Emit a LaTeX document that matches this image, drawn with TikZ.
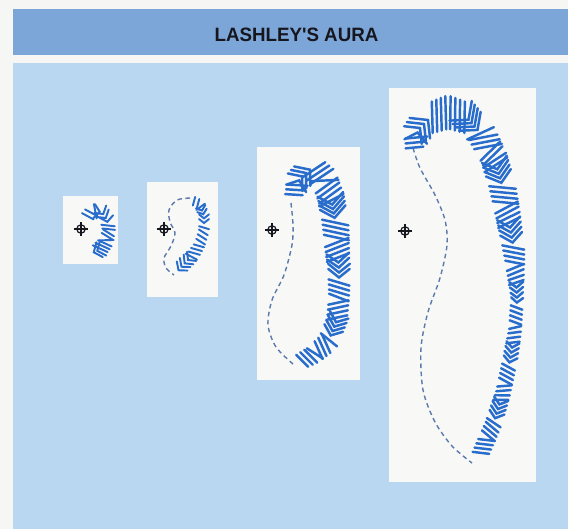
\documentclass[tikz,border=0pt]{standalone}
\usepackage{fontspec}
\newfontfamily\headfont{Liberation Sans}[FakeStretch=0.97]
\usepackage{xcolor}
\definecolor{pagewhite}{RGB}{246,246,244}
\definecolor{barblue}{RGB}{124,165,216}
\definecolor{panelblue}{RGB}{186,215,241}
\definecolor{cardwhite}{RGB}{248,248,247}
\definecolor{auraline}{RGB}{40,108,204}
\definecolor{rimline}{RGB}{92,122,172}
\definecolor{titleink}{RGB}{22,22,30}
\usepackage{tikz}

\newcount\aurastroke
% zigzag front along a centre line: #1 spacing (px), #2 list of x/y/half width
\newcommand\aurafront[2]{%
  \global\aurastroke=0
  \foreach \x/\y/\w [count=\i, remember=\x as \lx (initially 0), remember=\y as \ly (initially 0), remember=\w as \lw (initially 0)] in {#2} {
    \ifnum\i>1\relax
      \pgfmathsetmacro{\seglen}{veclen(\x-\lx,\y-\ly)}
      \pgfmathtruncatemacro{\nst}{max(1,round(\seglen/#1))}
      \pgfmathsetmacro{\tx}{(\x-\lx)/\seglen}
      \pgfmathsetmacro{\ty}{(\y-\ly)/\seglen}
      \foreach \k in {1,...,\nst} {
        \pgfmathsetmacro{\auraT}{(\k-0.5)/\nst}
        \pgfmathsetmacro{\cx}{\lx+(\x-\lx)*\auraT}
        \pgfmathsetmacro{\cy}{\ly+(\y-\ly)*\auraT}
        \pgfmathsetmacro{\hw}{\lw+(\w-\lw)*\auraT}
        \pgfmathsetmacro{\ux}{\hw*\tx}
        \pgfmathsetmacro{\uy}{\hw*\ty}
        \pgfmathsetmacro{\vx}{-\hw*\ty}
        \pgfmathsetmacro{\vy}{\hw*\tx}
        \global\advance\aurastroke by 1
        \pgfmathtruncatemacro{\grp}{mod(floor(\the\aurastroke/4),3)}
        \ifcase\grp\relax
          \draw[hatch] ({\cx-(0.3*\ux+\vx)},{\cy-(0.3*\uy+\vy)}) -- ({\cx+(0.3*\ux+\vx)},{\cy+(0.3*\uy+\vy)});
        \or
          \draw[hatch] ({\cx+(-0.8*\ux-\vx)},{\cy+(-0.8*\uy-\vy)}) -- ({\cx},{\cy}) -- ({\cx+(-0.8*\ux+\vx)},{\cy+(-0.8*\uy+\vy)});
        \or
          \draw[hatch] ({\cx-(-0.3*\ux+\vx)},{\cy-(-0.3*\uy+\vy)}) -- ({\cx+(-0.3*\ux+\vx)},{\cy+(-0.3*\uy+\vy)});
        \fi
      }
    \fi
  }%
}

\tikzset{
  card/.style={fill=cardwhite},
  rim/.style={draw=rimline, line width=0.8pt, dash pattern=on 2.6pt off 2pt},
  hatch/.style={draw=auraline, line width=1.4pt, line cap=round},
  fixmark/.pic={
    \draw[line width=0.7pt, titleink] (0,0) circle (2.4pt);
    \draw[line width=0.7pt, titleink] (-4pt,0) -- (4pt,0) (0,-4pt) -- (0,4pt);
  }
}

\begin{document}
\begin{tikzpicture}[x=0.02cm, y=-0.02cm]
\useasboundingbox (0,0) rectangle (568,529);
\fill[pagewhite] (0,0) rectangle (568,529);

% Heading bar
\fill[barblue] (13,9) rectangle (568,55);
\node[font=\headfont\bfseries\fontsize{11}{13}\selectfont, text=titleink] (title) at (296.5,35) {LASHLEY'S AURA};

% Panel and the four cards
\fill[panelblue] (13,63) rectangle (568,529);
\fill[card] (63,196) rectangle (118,264);
\fill[card] (147,182) rectangle (218,297);
\fill[card] (257,147) rectangle (360,380);
\fill[card] (389,88) rectangle (536,482);

% Fixation points
\pic (fix1) at (81,229) {fixmark};
\pic (fix2) at (164,229) {fixmark};
\pic (fix3) at (272,230) {fixmark};
\pic (fix4) at (405,231) {fixmark};

% Inner edges
\draw[rim] plot[smooth] coordinates {(190,198) (177,200) (169,210) (170,222) (175,233) (171,246) (164,258) (166,268) (174,275)};
\draw[rim] plot[smooth] coordinates {(291,203) (293,225) (292,245) (284,275) (272,300) (268,325) (276,347) (293,364)};
\draw[rim] plot[smooth] coordinates {(413,148) (420,168) (435,195) (445,220) (447,245) (440,278) (428,312) (421,348) (423,390) (435,422) (452,446) (472,463)};

% Zigzag fronts
\begin{scope}[hatch/.append style={line width=1.1pt}]
\aurafront{4}{86/218/6, 93/211/7, 102/212/7, 107/220/7, 109/231/6, 106/242/7, 99/250/8, 92/253/8}
\aurafront{4.3}{192/200/4, 200/205/5, 204/216/5, 204/230/5, 200/244/5, 193/255/6, 183/265/7, 177/272/7}
\end{scope}
\aurafront{4.8}{293/197/8, 300/178/11, 312/168/13, 324/178/13, 331/198/13, 335/220/13, 337/245/12, 339/270/11, 339/295/10, 337/320/10, 328/342/10, 313/355/9, 300/362/8}
\aurafront{5}{414/150/8, 418/130/12, 430/118/15, 448/112/16, 467/118/15, 482/135/14, 494/158/13, 502/185/13, 508/215/12, 513/245/11, 516/275/8, 517/300/6, 515/330/6, 510/360/7, 503/393/7, 493/425/8, 480/455/8}
\end{tikzpicture}
\end{document}
